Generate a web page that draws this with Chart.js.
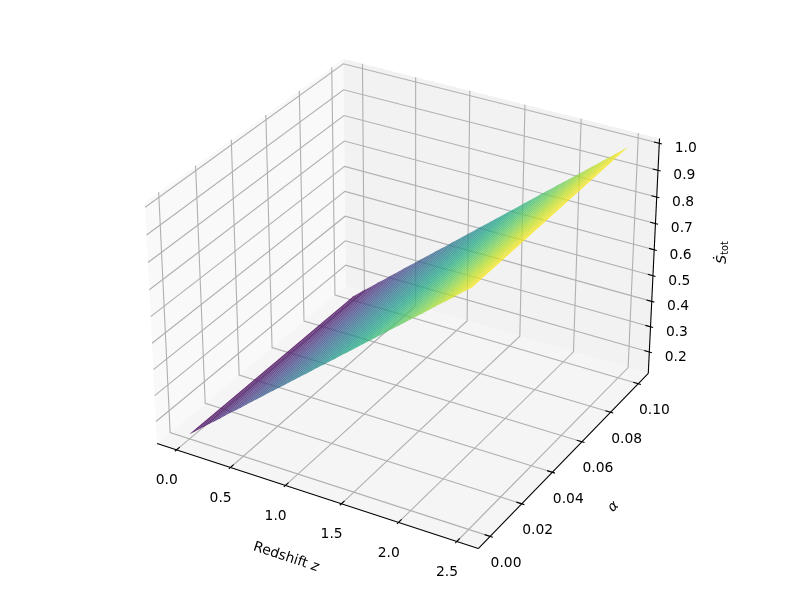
<!DOCTYPE html>
<html><head><meta charset="utf-8">
<style>html,body{margin:0;padding:0;background:#fff}canvas{display:block}</style>
<script src="https://cdn.jsdelivr.net/npm/chart.js@4"></script>
</head><body>
<canvas id="c" width="800" height="600"></canvas>
<script>
// ---- values ----
const redshift = [0,0.05,0.1,0.15,0.2,0.25,0.3,0.35,0.4,0.45,0.5,0.55,0.6,0.65,0.7,0.75,0.8,0.85,0.9,0.95,1,1.05,1.1,1.15,1.2,1.25,1.3,1.35,1.4,1.45,1.5,1.55,1.6,1.65,1.7,1.75,1.8,1.85,1.9,1.95,2,2.05,2.1,2.15,2.2,2.25,2.3,2.35,2.4,2.45,2.5];
const alphaEdges = [0, 0.1];
const sAtAlphaLow = [.132,.149,.166,.184,.201,.218,.235,.253,.270,.287,.304,.322,.339,.356,.373,.391,.408,.425,.442,.460,.477,.494,.511,.529,.546,.563,.580,.597,.615,.632,.649,.666,.684,.701,.718,.735,.753,.770,.787,.804,.822,.839,.856,.873,.891,.908,.925,.942,.960,.977,.994];
const sAtAlphaHigh = [.132,.149,.167,.184,.201,.219,.236,.254,.271,.288,.306,.323,.340,.358,.375,.392,.410,.427,.444,.462,.479,.497,.514,.531,.549,.566,.583,.601,.618,.635,.653,.670,.688,.705,.722,.740,.757,.774,.792,.809,.826,.844,.861,.878,.896,.913,.931,.948,.965,.983,1.000];
const xTicks = [0,0.5,1,1.5,2,2.5];
const xTickLabels = ['0.0','0.5','1.0','1.5','2.0','2.5'];
const yTicks = [0,0.02,0.04,0.06,0.08,0.1];
const yTickLabels = ['0.00','0.02','0.04','0.06','0.08','0.10'];
const zTicks = [0.2,0.3,0.4,0.5,0.6,0.7,0.8,0.9,1];
const zTickLabels = ['0.2','0.3','0.4','0.5','0.6','0.7','0.8','0.9','1.0'];
const xLim = [-0.125,2.625], yLim = [-0.005,0.105], zLim = [0.132,1.0];

// ---- 3D view: elevation 30, azimuth -60, distance 10 ----
const ASPECT = [1.1905,1.1905,0.8929], DIST = 10;
const N = [0.4330127,-0.75,0.5], U = [0.8660254,0.5,0], V = [-0.25,0.4330127,0.8660254];
function frac(v,l){return (v-l[0])/(l[1]-l[0]);}
function project(x,y,z){
  const d=[(frac(x,xLim)-0.5)*ASPECT[0],(frac(y,yLim)-0.5)*ASPECT[1],(frac(z,zLim)-0.5)*ASPECT[2]];
  const dot=(a)=>a[0]*d[0]+a[1]*d[1]+a[2]*d[2];
  const w=DIST-dot(N);
  return {x:dot(U)/w,y:dot(V)/w};
}
// pane limits reach 1/48 of the range past the axis limits
function pad(l){const r=(l[1]-l[0])/48;return [l[0]-r,l[1]+r];}
const xP=pad(xLim), yP=pad(yLim), zP=pad(zLim);

const viridisStops=[[68,1,84],[72,36,117],[65,68,135],[53,95,141],[42,120,142],[33,145,140],[34,168,132],[68,191,112],[122,209,81],[189,223,38],[253,231,37]];
function viridis(t,a){
  t=Math.min(1,Math.max(0,t))*(viridisStops.length-1);
  const i=Math.min(viridisStops.length-2,Math.floor(t)),f=t-i;
  const c=[0,1,2].map(k=>Math.round(viridisStops[i][k]*(1-f)+viridisStops[i+1][k]*f));
  return `rgba(${c[0]},${c[1]},${c[2]},${a})`;
}

const layers=[];
function poly(pts,color){layers.push({data:pts.concat([pts[0]]),showLine:true,fill:'shape',backgroundColor:color,borderWidth:0,borderColor:'transparent',pointRadius:0,tension:0,clip:false});}
function line(pts,color,w){layers.push({data:pts,showLine:true,fill:false,borderColor:color,borderWidth:w,pointRadius:0,tension:0,clip:false});}

// panes
poly([project(xP[0],yP[0],zP[0]),project(xP[0],yP[1],zP[0]),project(xP[0],yP[1],zP[1]),project(xP[0],yP[0],zP[1])],'#f9f9f9');
poly([project(xP[0],yP[1],zP[0]),project(xP[1],yP[1],zP[0]),project(xP[1],yP[1],zP[1]),project(xP[0],yP[1],zP[1])],'#f2f2f2');
poly([project(xP[0],yP[0],zP[0]),project(xP[1],yP[0],zP[0]),project(xP[1],yP[1],zP[0]),project(xP[0],yP[1],zP[0])],'#f5f5f5');
// grid
const GRID='#b0b0b0', GW=1.1;
xTicks.forEach(v=>line([project(v,yP[0],zP[0]),project(v,yP[1],zP[0]),project(v,yP[1],zP[1])],GRID,GW));
yTicks.forEach(v=>line([project(xP[1],v,zP[0]),project(xP[0],v,zP[0]),project(xP[0],v,zP[1])],GRID,GW));
zTicks.forEach(v=>line([project(xP[0],yP[0],v),project(xP[0],yP[1],v),project(xP[1],yP[1],v)],GRID,GW));
// axes + ticks
const AK='#000', AW=1.1;
line([project(xP[0],yP[0],zP[0]),project(xP[1],yP[0],zP[0])],AK,AW);
line([project(xP[1],yP[0],zP[0]),project(xP[1],yP[1],zP[0])],AK,AW);
line([project(xP[1],yP[1],zP[0]),project(xP[1],yP[1],zP[1])],AK,AW);
const dx=(xLim[1]-xLim[0])/12, dy=(yLim[1]-yLim[0])/12;
xTicks.forEach(v=>line([project(v,yP[0]+0.2*dy,zP[0]),project(v,yP[0]-0.1*dy,zP[0])],AK,AW));
yTicks.forEach(v=>line([project(xP[1]-0.2*dx,v,zP[0]),project(xP[1]+0.1*dx,v,zP[0])],AK,AW));
zTicks.forEach(v=>line([project(xP[1]-0.2*dx,yP[1],v),project(xP[1]+0.1*dx,yP[1],v)],AK,AW));
// surface
const allS=sAtAlphaLow.concat(sAtAlphaHigh), sMin=Math.min(...allS), sMax=Math.max(...allS);
for(let i=0;i<redshift.length-1;i++){
  const mean=(sAtAlphaLow[i]+sAtAlphaLow[i+1]+sAtAlphaHigh[i]+sAtAlphaHigh[i+1])/4;
  poly([project(redshift[i],alphaEdges[0],sAtAlphaLow[i]),project(redshift[i+1],alphaEdges[0],sAtAlphaLow[i+1]),
        project(redshift[i+1],alphaEdges[1],sAtAlphaHigh[i+1]),project(redshift[i],alphaEdges[1],sAtAlphaHigh[i])],
       viridis((mean-sMin)/(sMax-sMin),0.82));
}
layers.forEach((d,i)=>{d.order=layers.length-i;});

const labelsPlugin={id:'labels3d',afterDraw(chart){
  const c=chart.ctx,sx=chart.scales.x,sy=chart.scales.y;
  const F='"DejaVu Sans"';
  const px=p=>[sx.getPixelForValue(p.x),sy.getPixelForValue(p.y)];
  function put(t,x,y,font,rot){c.save();c.translate(x,y);if(rot)c.rotate(rot);c.font=font;c.fillStyle='#000';c.textAlign='center';c.textBaseline='middle';c.fillText(t,0,0);c.restore();}
  const f=`13.89px ${F}`;
  xTicks.forEach((v,i)=>{const q=px(project(v,yP[0],zP[0]));put(xTickLabels[i],q[0]-9.8,q[1]+30.9,f);});
  yTicks.forEach((v,i)=>{const q=px(project(xP[1],v,zP[0]));put(yTickLabels[i],q[0]+16,q[1]+27,f);});
  zTicks.forEach((v,i)=>{const q=px(project(xP[1],yP[1],v));put(zTickLabels[i],q[0]+26.4,q[1]+5.3,f);});
  // axis titles
  c.save();c.translate(286,557.2);c.rotate(18.4*Math.PI/180);c.fillStyle='#000';c.textBaseline='middle';c.textAlign='left';
  c.font=f;const a='Redshift ';const wa=c.measureText(a).width;
  c.font=`italic ${f}`;const wb=c.measureText('z').width;
  c.font=f;c.fillText(a,-(wa+wb)/2,0);c.font=`italic ${f}`;c.fillText('z',-(wa+wb)/2+wa,0);c.restore();
  put('α',613.3,506.7,`italic ${f}`,-46*Math.PI/180);
  c.save();c.translate(721.7,251.7);c.rotate(-Math.PI/2);c.fillStyle='#000';c.textBaseline='alphabetic';c.textAlign='left';
  c.font=`italic ${f}`;c.fillText('Ṡ',-12,4);c.font=`9.7px ${F}`;c.fillText('tot',-3,6.5);c.restore();
}};

new Chart(document.getElementById('c'),{
  type:'scatter',
  data:{datasets:layers},
  options:{responsive:false,animation:false,layout:{padding:0},events:[],
    plugins:{legend:{display:false},tooltip:{enabled:false},title:{display:false},filler:{propagate:false}},
    scales:{
      x:{type:'linear',display:false,min:-407.4/2966,max:392.6/2966},
      y:{type:'linear',display:false,min:-308.5/2955,max:291.5/2955}
    }},
  plugins:[labelsPlugin]
});
</script>
</body></html>
